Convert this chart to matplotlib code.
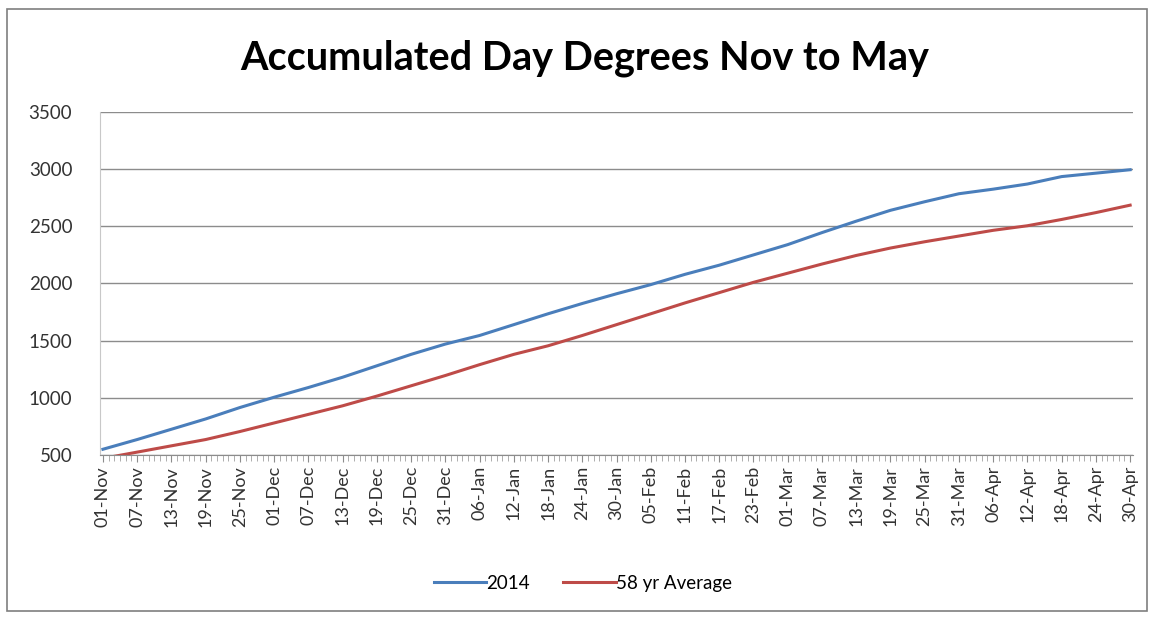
import matplotlib.pyplot as plt
from matplotlib.patches import Rectangle

# Values, one point every 6 days from 01-Nov to 30-Apr
day_labels = ['01-Nov', '07-Nov', '13-Nov', '19-Nov', '25-Nov', '01-Dec', '07-Dec',
              '13-Dec', '19-Dec', '25-Dec', '31-Dec', '06-Jan', '12-Jan', '18-Jan',
              '24-Jan', '30-Jan', '05-Feb', '11-Feb', '17-Feb', '23-Feb', '01-Mar',
              '07-Mar', '13-Mar', '19-Mar', '25-Mar', '31-Mar', '06-Apr', '12-Apr',
              '18-Apr', '24-Apr', '30-Apr']
day_index = [0, 6, 12, 18, 24, 30, 36, 42, 48, 54, 60, 66, 72, 78, 84, 90, 96,
             102, 108, 114, 120, 126, 132, 138, 144, 150, 156, 162, 168, 174, 180]

dd_2014 = [550, 635, 725, 815, 915, 1005, 1090, 1180, 1280, 1380, 1470, 1545,
           1640, 1735, 1825, 1910, 1990, 2080, 2160, 2250, 2340, 2445, 2545,
           2640, 2715, 2785, 2825, 2870, 2935, 2965, 2995]
dd_avg = [470, 525, 580, 635, 705, 780, 855, 930, 1015, 1105, 1195, 1290,
          1380, 1455, 1545, 1640, 1735, 1830, 1920, 2010, 2090, 2170, 2245,
          2310, 2365, 2415, 2465, 2505, 2560, 2620, 2685]

n_days = 181

plt.rcParams['font.family'] = ['Lato', 'DejaVu Sans']

fig = plt.figure(figsize=(11.54, 6.17), dpi=100)
ax = fig.add_axes([0.0867, 0.2626, 0.8951, 0.5559])

ax.plot(day_index, dd_2014, color='#4A7EBB', linewidth=2.2, label='2014')
ax.plot(day_index, dd_avg, color='#BE4B48', linewidth=2.2, label='58 yr Average')

ax.set_xlim(-0.5, n_days - 0.5)
ax.set_ylim(500, 3500)
ax.set_yticks(range(500, 3501, 500))
ax.set_xticks(day_index)
ax.set_xticklabels(day_labels, rotation=90)
ax.set_xticks(range(n_days), minor=True)

ax.grid(axis='y', color='#8c8c8c', linewidth=1)
ax.set_axisbelow(True)
for s in ['top', 'right']:
    ax.spines[s].set_visible(False)
ax.spines['left'].set_color('#c8c8c8')
ax.spines['bottom'].set_color('#8c8c8c')
ax.tick_params(axis='y', length=0, labelsize=13.5, labelcolor='#333333', pad=20)
ax.tick_params(axis='x', which='major', length=5, color='#8c8c8c',
               labelsize=13, labelcolor='#333333', pad=3)
ax.tick_params(axis='x', which='minor', length=4, color='#a0a0a0')

fig.text(0.507, 0.905, 'Accumulated Day Degrees Nov to May', ha='center', va='center',
         fontsize=28.5, fontweight='bold', color='#000000')

fig.legend(loc='center', bbox_to_anchor=(0.505, 0.055), ncol=2, frameon=False,
           fontsize=13.5, handlelength=2.8, handletextpad=0.0, columnspacing=1.8)

fig.patches.append(Rectangle((0.006, 0.01), 0.988, 0.975, transform=fig.transFigure,
                             fill=False, edgecolor='#7f7f7f', linewidth=1.2))

plt.savefig('out.png', dpi=100)
